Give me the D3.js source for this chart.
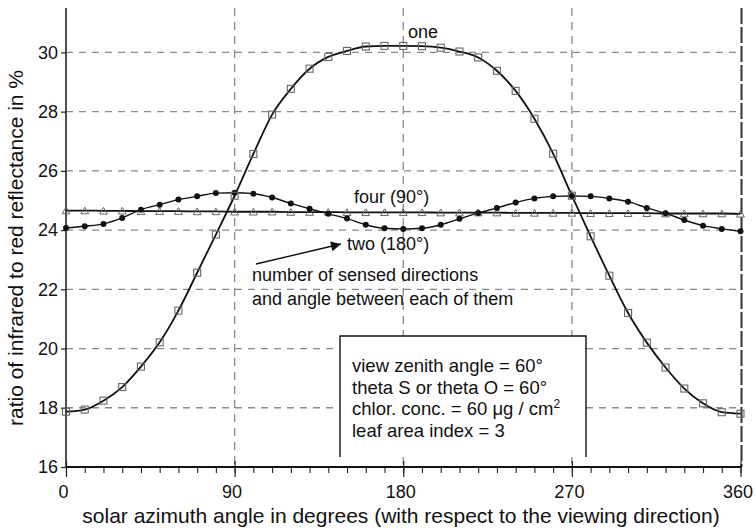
<!DOCTYPE html>
<html>
<head>
<meta charset="utf-8">
<script src="https://cdn.jsdelivr.net/npm/d3@7"></script>
<style>
  html, body { margin: 0; padding: 0; background: #fff; }
  svg { display: block; }
  text { font-family: "Liberation Sans", Arial, Helvetica, sans-serif; fill: #111; }
</style>
</head>
<body>
<svg id="chart" width="756" height="531"></svg>
<script>
// Solar azimuth angles (degrees) at which each configuration was computed
const angles = [0, 10, 20, 30, 40, 50, 60, 70, 80, 90, 100, 110, 120, 130, 140, 150, 160, 170, 180,
                190, 200, 210, 220, 230, 240, 250, 260, 270, 280, 290, 300, 310, 320, 330, 340, 350, 360];

// One sensed direction
const seriesOne = [17.87, 17.94, 18.24, 18.70, 19.39, 20.21, 21.28, 22.56, 23.85, 25.16, 26.57, 27.90,
                   28.77, 29.45, 29.85, 30.05, 30.20, 30.22, 30.22, 30.21, 30.16, 30.03, 29.83, 29.38,
                   28.70, 27.76, 26.58, 25.16, 23.79, 22.46, 21.20, 20.20, 19.36, 18.65, 18.15, 17.85, 17.80];

// Two sensed directions, 180° apart
const seriesTwo = [24.07, 24.13, 24.21, 24.41, 24.69, 24.86, 25.03, 25.14, 25.25, 25.26, 25.23, 25.10,
                   24.90, 24.72, 24.55, 24.39, 24.18, 24.06, 24.04, 24.06, 24.18, 24.38, 24.58, 24.75,
                   24.93, 25.07, 25.14, 25.15, 25.14, 25.07, 24.96, 24.75, 24.57, 24.34, 24.15, 24.04, 23.96];

// Four sensed directions, 90° apart
const seriesFour = [24.66, 24.66, 24.65, 24.65, 24.64, 24.64, 24.64, 24.63, 24.63, 24.62, 24.62, 24.62,
                    24.61, 24.61, 24.61, 24.60, 24.60, 24.60, 24.60, 24.60, 24.59, 24.59, 24.59, 24.59,
                    24.58, 24.58, 24.58, 24.58, 24.57, 24.57, 24.57, 24.57, 24.56, 24.56, 24.56, 24.56, 24.55];

const xTicks = [0, 90, 180, 270, 360];
const yTicks = [16, 18, 20, 22, 24, 26, 28, 30];
const yGrid = [18, 20, 22, 24, 26, 28, 30];
const xGrid = [90, 180, 270];

const labelOne = "one";
const labelFour = "four (90°)";
const labelTwo = "two (180°)";
const noteLines = ["number of sensed directions", "and angle between each of them"];
const infoLines = ["view zenith angle = 60°", "theta S or theta O = 60°", "chlor. conc. = 60 μg / cm", "leaf area index = 3"];
const xTitle = "solar azimuth angle in degrees (with respect to the viewing direction)";
const yTitle = "ratio of infrared to red reflectance in %";

const svg = d3.select("#chart");
const plot = { left: 66, right: 740.5, top: 8, bottom: 467 };

const x = d3.scaleLinear().domain([0, 360]).range([plot.left, plot.right]);
const y = d3.scaleLinear().domain([16, 31.5]).range([plot.bottom, plot.top]);

// Dashed grid
const grid = svg.append("g");
grid.selectAll("line.h").data(yGrid).join("line")
  .attr("x1", plot.left).attr("x2", plot.right)
  .attr("y1", d => y(d)).attr("y2", d => y(d))
  .attr("stroke", "#8a8a8a").attr("stroke-width", 1.3).attr("stroke-dasharray", "7,6");
grid.selectAll("line.v").data(xGrid).join("line")
  .attr("x1", d => x(d)).attr("x2", d => x(d))
  .attr("y1", plot.top).attr("y2", plot.bottom)
  .attr("stroke", "#8a8a8a").attr("stroke-width", 1.3).attr("stroke-dasharray", "8,6");

// Right frame edge
svg.append("line")
  .attr("x1", x(360) + 1).attr("x2", x(360) + 1)
  .attr("y1", plot.top).attr("y2", plot.bottom)
  .attr("stroke", "#333").attr("stroke-width", 2).attr("stroke-dasharray", "16,3");

// Left axis
const yAxis = d3.axisLeft(y).tickValues(yTicks).tickSize(5).tickPadding(3).tickFormat(d3.format("d"));
const gy = svg.append("g").attr("transform", `translate(${plot.left},0)`).call(yAxis);
gy.select(".domain").attr("d", `M0,${plot.top}V${plot.bottom}`).attr("stroke", "#222").attr("stroke-width", 1.6);
gy.selectAll(".tick line").attr("stroke", "#222").attr("stroke-width", 1.2);
gy.selectAll(".tick text").style("font-size", "18px").style("font-family", "Liberation Sans, Arial, sans-serif").attr("fill", "#111");

// Bottom axis with minor ticks every 10°
const gx = svg.append("g").attr("transform", `translate(0,${plot.bottom})`);
gx.append("g").call(d3.axisBottom(x).tickValues(angles).tickSize(6).tickFormat(""))
  .call(g => g.select(".domain").remove())
  .call(g => g.selectAll(".tick line").attr("stroke", "#222").attr("stroke-width", 1.1));
const major = gx.append("g").call(d3.axisBottom(x).tickValues(xTicks).tickSize(10).tickPadding(8).tickFormat(d3.format("d")));
major.select(".domain").attr("d", `M${plot.left},0H${plot.right + 1}`).attr("stroke", "#111").attr("stroke-width", 2);
major.selectAll(".tick line").attr("y1", -6).attr("stroke", "#222").attr("stroke-width", 1.2);
major.selectAll(".tick text").attr("dx", -3).style("font-size", "18px").style("font-family", "Liberation Sans, Arial, sans-serif").attr("fill", "#111");

// Curves
const lineGen = vals => d3.line().x((d, i) => x(angles[i])).y(d => y(d)).curve(d3.curveMonotoneX)(vals);

svg.append("path").attr("d", lineGen(seriesFour)).attr("fill", "none").attr("stroke", "#111").attr("stroke-width", 1.8);
svg.append("path").attr("d", lineGen(seriesTwo)).attr("fill", "none").attr("stroke", "#111").attr("stroke-width", 1.4);
svg.append("path").attr("d", lineGen(seriesOne)).attr("fill", "none").attr("stroke", "#111").attr("stroke-width", 1.8);

// Markers: triangles for four, filled circles for two, squares for one
const tri = d3.symbol().type(d3.symbolTriangle).size(26);
svg.append("g").selectAll("path").data(seriesFour).join("path")
  .attr("d", tri)
  .attr("transform", (d, i) => `translate(${x(angles[i])},${y(d) + 1})`)
  .attr("fill", "none").attr("stroke", "#666").attr("stroke-width", 1);

svg.append("g").selectAll("circle").data(seriesTwo).join("circle")
  .attr("cx", (d, i) => x(angles[i])).attr("cy", d => y(d)).attr("r", 3)
  .attr("fill", "#111");

svg.append("g").selectAll("rect").data(seriesOne).join("rect")
  .attr("x", (d, i) => x(angles[i]) - 3.5).attr("y", d => y(d) - 3.5)
  .attr("width", 7).attr("height", 7)
  .attr("fill", "none").attr("stroke", "#666").attr("stroke-width", 1.1);

// Curve labels
const ann = svg.append("g").style("font-size", "18px");
ann.append("text").attr("x", 408).attr("y", 38).text(labelOne);
ann.append("text").attr("x", 354).attr("y", 203).text(labelFour);
ann.append("text").attr("x", 347).attr("y", 250).text(labelTwo);
ann.selectAll("text.note").data(noteLines).join("text")
  .attr("class", "note").attr("x", 252).attr("y", (d, i) => 281 + i * 24).text(d => d);

// Arrow pointing to the curve labels
svg.append("defs").append("marker")
  .attr("id", "head").attr("viewBox", "0 0 10 10").attr("refX", 10).attr("refY", 5)
  .attr("markerWidth", 14).attr("markerHeight", 10).attr("markerUnits", "userSpaceOnUse")
  .attr("orient", "auto")
  .append("path").attr("d", "M0,0L10,5L0,10Z").attr("fill", "#111");
svg.append("line")
  .attr("x1", 256).attr("y1", 264).attr("x2", 341).attr("y2", 244)
  .attr("stroke", "#111").attr("stroke-width", 1.4).attr("marker-end", "url(#head)");

// Parameter box (open at the bottom)
const box = svg.append("g");
box.append("rect").attr("x", 340).attr("y", 336).attr("width", 246).attr("height", 121).attr("fill", "#fff");
box.append("path").attr("d", "M340,457V336H586V457").attr("fill", "none").attr("stroke", "#111").attr("stroke-width", 1.4);
const info = box.selectAll("text").data(infoLines).join("text")
  .attr("x", 352).attr("y", (d, i) => 372 + i * 21.5)
  .style("font-size", "18.5px").text(d => d);
info.filter((d, i) => i === 2).append("tspan").attr("dy", -7).style("font-size", "12px").text("2");

// Axis titles
svg.append("text").attr("x", 401).attr("y", 523).attr("text-anchor", "middle")
  .style("font-size", "21px").text(xTitle);
svg.append("text").attr("transform", "translate(23,248) rotate(-90)").attr("text-anchor", "middle")
  .style("font-size", "21px").text(yTitle);
</script>
</body>
</html>
